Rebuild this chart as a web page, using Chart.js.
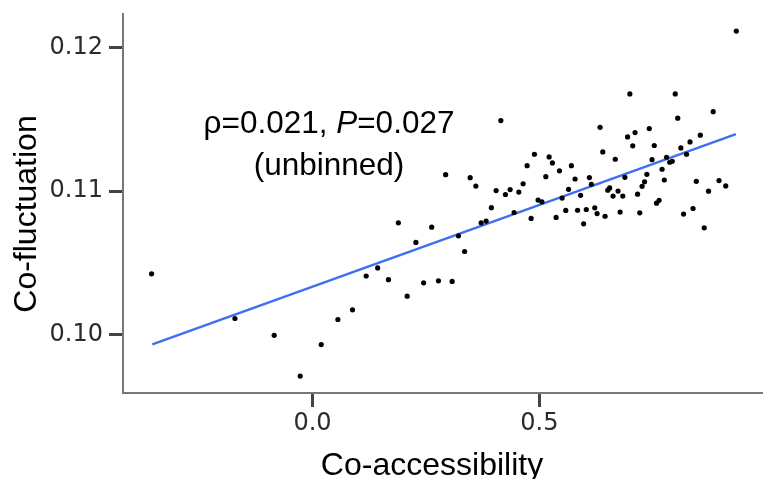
<!DOCTYPE html>
<html>
<head>
<meta charset="utf-8">
<script src="https://cdn.jsdelivr.net/npm/chart.js@4"></script>
<style>
  html, body { margin: 0; padding: 0; background: #fff; }
  #wrap { width: 763px; height: 479px; position: relative; }
</style>
</head>
<body>
<div id="wrap"><canvas id="scatterChart" width="763" height="479"></canvas></div>
<script>
// Co-accessibility vs co-fluctuation scatter with fitted line

const coAccessibility = [
  -0.3546, -0.1709, -0.0844, -0.0271, 0.0192, 0.0559, 0.0881, 0.1183, 0.1436, 0.1674,
  0.1892, 0.2086, 0.2278, 0.2449, 0.2626, 0.2775, 0.2934, 0.3077, 0.3216, 0.3352,
  0.3474, 0.3599, 0.3716, 0.3826, 0.3941, 0.4046, 0.4150, 0.4251, 0.4355, 0.4443,
  0.4546, 0.4641, 0.4729, 0.4817, 0.4890, 0.4971, 0.5055, 0.5141, 0.5214, 0.5286,
  0.5368, 0.5441, 0.5500, 0.5581, 0.5643, 0.5705, 0.5786, 0.5841, 0.5907, 0.5974,
  0.6033, 0.6101, 0.6145, 0.6220, 0.6271, 0.6337, 0.6396, 0.6447, 0.6507, 0.6548,
  0.6623, 0.6672, 0.6733, 0.6778, 0.6837, 0.6883, 0.6943, 0.6993, 0.7057, 0.7108,
  0.7163, 0.7211, 0.7262, 0.7317, 0.7368, 0.7421, 0.7482, 0.7531, 0.7581, 0.7637,
  0.7703, 0.7753, 0.7802, 0.7872, 0.7927, 0.7993, 0.8048, 0.8117, 0.8176, 0.8242,
  0.8319, 0.8385, 0.8458, 0.8546, 0.8632, 0.8727, 0.8830, 0.8958, 0.9106, 0.9339
];
const coFluctuation = [
  0.10422, 0.10110, 0.09993, 0.09708, 0.09928, 0.10103, 0.10171, 0.10407, 0.10463, 0.10381,
  0.10778, 0.10266, 0.10641, 0.10359, 0.10748, 0.10373, 0.11114, 0.10369, 0.10687, 0.10578,
  0.11093, 0.11035, 0.10778, 0.10790, 0.10884, 0.11003, 0.11492, 0.10976, 0.11010, 0.10850,
  0.10993, 0.11051, 0.11177, 0.10809, 0.11257, 0.10937, 0.10925, 0.11100, 0.11238, 0.11196,
  0.10816, 0.11141, 0.10951, 0.10865, 0.11012, 0.11177, 0.11084, 0.10866, 0.10970, 0.10771,
  0.10871, 0.11094, 0.11047, 0.10883, 0.10843, 0.11445, 0.11273, 0.10824, 0.11006, 0.11022,
  0.10965, 0.11222, 0.11000, 0.10853, 0.10965, 0.11096, 0.11378, 0.11678, 0.11316, 0.11408,
  0.10978, 0.10848, 0.11033, 0.11064, 0.11117, 0.11436, 0.11219, 0.11318, 0.10915, 0.10935,
  0.11152, 0.11077, 0.11236, 0.11201, 0.11208, 0.11678, 0.11509, 0.11301, 0.10839, 0.11257,
  0.11343, 0.10878, 0.11068, 0.11390, 0.10743, 0.10999, 0.11554, 0.11073, 0.11036, 0.12117
];

// fitted line end points
const fitX = [-0.353, 0.933];
const fitY = [0.0993, 0.11397];

const xTicks = [0.0, 0.5];
const yTicks = [0.10, 0.11, 0.12];
const xRange = [-0.4176, 0.9927];
const yRange = [0.09590, 0.12236];

const xTitle = 'Co-accessibility';
const yTitle = 'Co-fluctuation';
const statLine1 = ['ρ=0.021, ', 'P', '=0.027'];
const statLine2 = '(unbinned)';

const points = coAccessibility.map((x, i) => ({ x: x, y: coFluctuation[i] }));
const fitLine = fitX.map((x, i) => ({ x: x, y: fitY[i] }));

const textFont = '"Liberation Sans", Arial, sans-serif';

const textPlugin = {
    id: 'textPlugin',
    afterDraw(chart) {
        const ctx = chart.ctx;
        ctx.save();
        ctx.fillStyle = '#000';

        // annotation, centred on x=329
        const italic = 'italic 31.5px ' + textFont;
        const normal = '31.5px ' + textFont;
        ctx.font = normal;
        const w0 = ctx.measureText(statLine1[0]).width;
        ctx.font = italic;
        const w1 = ctx.measureText(statLine1[1]).width;
        ctx.font = normal;
        const w2 = ctx.measureText(statLine1[2]).width;
        let x = 329 - (w0 + w1 + w2) / 2;
        ctx.textBaseline = 'alphabetic';
        ctx.textAlign = 'left';
        ctx.fillText(statLine1[0], x, 133);
        ctx.font = italic;
        ctx.fillText(statLine1[1], x + w0, 133);
        ctx.font = normal;
        ctx.fillText(statLine1[2], x + w0 + w1, 133);
        ctx.textAlign = 'center';
        ctx.fillText(statLine2, 329, 175);

        // axis titles
        ctx.font = '32px ' + textFont;
        ctx.fillText(xTitle, 432, 475);
        ctx.translate(36, 214);
        ctx.rotate(-Math.PI / 2);
        ctx.fillText(yTitle, 0, 0);
        ctx.restore();
    }
};

new Chart(document.getElementById('scatterChart'), {
    type: 'scatter',
    data: {
        datasets: [
            {
                label: 'pairs',
                data: points,
                backgroundColor: '#000',
                borderColor: '#000',
                pointRadius: 2.6,
                pointBorderWidth: 0
            },
            {
                type: 'line',
                label: 'fit',
                data: fitLine,
                borderColor: '#3f6ef2',
                borderWidth: 2.4,
                pointRadius: 0,
                fill: false
            }
        ]
    },
    options: {
        responsive: false,
        animation: false,
        devicePixelRatio: 1,
        layout: { autoPadding: false, padding: { top: 14, right: 0, left: 0, bottom: 0 } },
        plugins: {
            legend: { display: false },
            tooltip: { enabled: false }
        },
        scales: {
            x: {
                type: 'linear',
                min: xRange[0],
                max: xRange[1],
                afterBuildTicks: s => { s.ticks = xTicks.map(v => ({ value: v })); },
                afterFit: s => { s.height = 86; s.paddingLeft = 0; s.paddingRight = 0; },
                grid: {
                    drawOnChartArea: false,
                    drawTicks: true,
                    tickLength: 14,
                    tickWidth: 3,
                    tickColor: '#444'
                },
                border: { display: true, color: '#777', width: 2 },
                ticks: {
                    padding: 2,
                    color: '#2b2b2b',
                    font: { family: '"DejaVu Sans"', size: 24 },
                    callback: v => v.toFixed(1)
                }
            },
            y: {
                type: 'linear',
                min: yRange[0],
                max: yRange[1],
                afterBuildTicks: s => { s.ticks = yTicks.map(v => ({ value: v })); },
                afterFit: s => { s.width = 123; s.paddingTop = 0; s.paddingBottom = 0; },
                grid: {
                    drawOnChartArea: false,
                    drawTicks: true,
                    tickLength: 14,
                    tickWidth: 3,
                    tickColor: '#444'
                },
                border: { display: true, color: '#777', width: 2 },
                ticks: {
                    padding: 6,
                    color: '#2b2b2b',
                    font: { family: '"DejaVu Sans"', size: 24 },
                    callback: v => v.toFixed(2)
                }
            }
        }
    },
    plugins: [textPlugin]
});
</script>
</body>
</html>
